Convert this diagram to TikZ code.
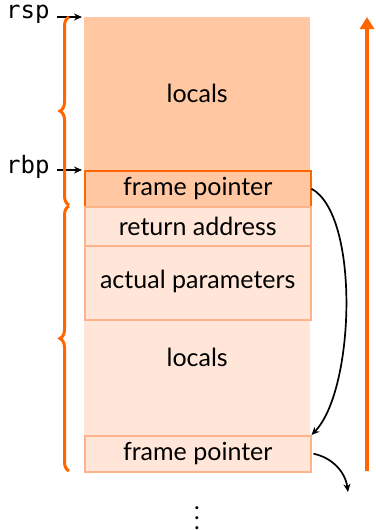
\documentclass[tikz,border=0pt]{standalone}
\usepackage{fontspec}
\setmainfont{Lato}
\setmonofont{DejaVu Sans Mono}
\usetikzlibrary{decorations.pathreplacing,arrows.meta}
\definecolor{fpdark}{HTML}{FFC8A3}
\definecolor{fplight}{HTML}{FFE6D8}
\definecolor{accent}{HTML}{FF6600}
\definecolor{softedge}{HTML}{FFB38A}
\begin{document}
\begin{tikzpicture}[x=1pt,y=-1pt,
  lbl/.style={font=\fontsize{25}{27}\selectfont},
  cell/.style={lbl,draw=softedge,line width=1.5pt,fill=fplight,minimum width=226pt,inner sep=0pt},
  brc/.style={draw=accent,line width=3pt,decorate,decoration={brace,amplitude=9pt}},
  reg/.style={font=\ttfamily\fontsize{24}{26}\selectfont,anchor=east},
  ptr/.style={-{Stealth[length=8pt,width=7pt]},line width=1.7pt}]
\useasboundingbox (0,0) rectangle (375,530);
% caller frame background
\fill[fplight] (84,206) rectangle (310,471);
% current frame locals
\node[lbl,fill=fpdark,minimum width=226pt,minimum height=153pt,inner sep=0pt,anchor=north west] (loc1) at (84,17) {locals};
% saved frame pointer of the current frame
\node[cell,draw=accent,fill=fpdark,minimum height=36pt,anchor=north west] (fp1) at (84,170) {frame pointer};
\node[cell,minimum height=39pt,anchor=north west] (ret) at (84,206) {return address};
\node[cell,minimum height=74pt,anchor=north west,text depth=6pt] (par) at (84,245) {actual parameters};
\node[lbl,minimum width=226pt,minimum height=115pt,inner sep=0pt,anchor=north west,text depth=40pt] (loc2) at (84,320) {locals};
\node[cell,minimum height=36pt,anchor=north west] (fp2) at (84,435) {frame pointer};
% register labels
\coordinate (rspT) at (82,17);
\coordinate (rbpT) at (82,170);
\node[reg] (rsp) at (53,14) {rsp};
\node[reg] (rbp) at (53,167) {rbp};
\draw[ptr,line width=1.3pt] (57,17) -- (rspT);
\draw[ptr,line width=1.3pt] (57,170) -- (rbpT);
% frame braces
\draw[brc] (69,205) -- (69,17);
\draw[brc] (69,471) -- (69,206);
% stack growth direction
\coordinate (gb) at (367,471);
\coordinate (gt) at (367,17);
\draw[accent,line width=4pt,-{Triangle[length=12pt,width=14pt]}] (gb) -- (gt);
% frame pointer chain
\coordinate (nx) at (348,492);
\draw[ptr] (fp1.east) .. controls (360,215) and (355,390) .. (fp2.north east);
\draw[ptr] (fp2.east) ++(2,0) .. controls (330,457) and (345,470) .. (nx);
\node[font=\fontsize{24}{10}\selectfont,align=center,inner sep=0pt] (dots) at (197,518) {.\\.\\.};
\end{tikzpicture}
\end{document}
